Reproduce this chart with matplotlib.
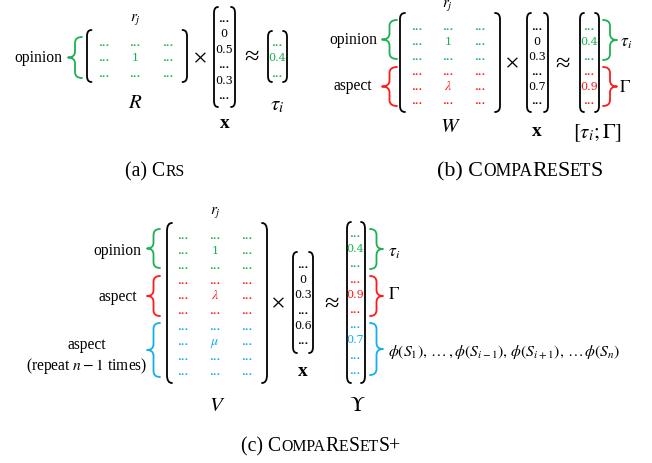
import matplotlib
matplotlib.use("Agg")
import matplotlib.pyplot as plt
from matplotlib.path import Path
from matplotlib.patches import PathPatch

plt.rcParams['mathtext.fontset'] = 'stix'

# ---------------- data ----------------
R_matrix = [["...", "...", "..."],
            ["...", "1", "..."],
            ["...", "...", "..."]]
x_a = ["...", "0", "0.5", "...", "0.3", "..."]
tau_a = ["...", "0.4", "..."]

W_matrix = [["...", "...", "..."],
            ["...", "1", "..."],
            ["...", "...", "..."],
            ["...", "...", "..."],
            ["...", r"$\lambda$", "..."],
            ["...", "...", "..."]]
W_groups = ["opinion", "opinion", "opinion", "aspect", "aspect", "aspect"]
x_b = ["...", "0", "0.3", "...", "0.7", "..."]
tau_b = ["...", "0.4", "...", "...", "0.9", "..."]

V_matrix = [["...", "...", "..."],
            ["...", "1", "..."],
            ["...", "...", "..."],
            ["...", "...", "..."],
            ["...", r"$\lambda$", "..."],
            ["...", "...", "..."],
            ["...", "...", "..."],
            ["...", r"$\mu$", "..."],
            ["...", "...", "..."],
            ["...", "...", "..."]]
V_groups = ["opinion"] * 3 + ["aspect"] * 3 + ["others"] * 4
x_c = ["...", "0", "0.3", "...", "0.6", "..."]
ups_c = ["...", "0.4", "...", "...", "0.9", "...", "...", "0.7", "...", "..."]

captions = {
    "a": [("(a) C", "L"), ("RS", "S")],
    "b": [("(b) C", "L"), ("OMPA", "S"), ("R", "L"), ("E", "S"), ("S", "L"),
          ("ET", "S"), ("S", "L")],
    "c": [("(c) C", "L"), ("OMPA", "S"), ("R", "L"), ("E", "S"), ("S", "L"),
          ("ET", "S"), ("S+", "L")],
}

GREEN = "#1DB052"
RED = "#FF1A1A"
BLUE = "#12AEEF"
group_color = {"opinion": GREEN, "aspect": RED, "others": BLUE}

SERIF = ["Liberation Serif", "DejaVu Serif"]
NUMF = ["DejaVu Serif"]

# ---------------- figure ----------------
fig = plt.figure(figsize=(6.52, 4.63), dpi=100)
ax = fig.add_axes([0, 0, 1, 1])
ax.set_xlim(0, 652)
ax.set_ylim(463, 0)
ax.axis("off")

NUM_FS = 8.0
DOT_FS = 7.5
LABEL_FS = 11.2
MATH_FS = 15
OP_FS = 19


def bracket(x, y0, y1, side, hook=4.5, curve=6, lw=1.3):
    s = 1 if side == "left" else -1
    verts = [(x + s * hook, y0), (x, y0), (x, y0 + curve),
             (x, y1 - curve), (x, y1), (x + s * hook, y1)]
    codes = [Path.MOVETO, Path.CURVE3, Path.CURVE3,
             Path.LINETO, Path.CURVE3, Path.CURVE3]
    ax.add_patch(PathPatch(Path(verts, codes), fill=False, lw=lw,
                           color="black", capstyle="round"))


def brace(x_tip, x_back, y0, y1, color, lw=1.3):
    xm = (x_tip + x_back) / 2
    ym = (y0 + y1) / 2
    r = min(6, (y1 - y0) / 5)
    verts = [(x_back, y0), (xm, y0), (xm, y0 + r),
             (xm, ym - r), (xm, ym), (x_tip, ym),
             (xm, ym), (xm, ym + r),
             (xm, y1 - r), (xm, y1), (x_back, y1)]
    codes = [Path.MOVETO, Path.CURVE3, Path.CURVE3,
             Path.LINETO, Path.CURVE3, Path.CURVE3,
             Path.CURVE3, Path.CURVE3,
             Path.LINETO, Path.CURVE3, Path.CURVE3]
    ax.add_patch(PathPatch(Path(verts, codes), fill=False, lw=lw,
                           color=color, capstyle="round", joinstyle="round"))


def entry(x, y, s, color):
    if s.startswith("$"):
        ax.text(x, y, s, ha="center", va="baseline", fontsize=NUM_FS + 2,
                color=color)
    elif s == "...":
        ax.text(x, y, s, ha="center", va="baseline", fontsize=DOT_FS,
                color=color, family=NUMF, fontweight="bold")
    else:
        ax.text(x, y, s, ha="center", va="baseline", fontsize=NUM_FS,
                color=color, family=NUMF)


def matrix(rows, colors, xs, y_first, dy):
    for i, row in enumerate(rows):
        for j, s in enumerate(row):
            entry(xs[j], y_first + i * dy, s, colors[i])


def vector(vals, colors, x, y_first, dy):
    for i, s in enumerate(vals):
        entry(x, y_first + i * dy, s, colors[i])


def label(x, y, s, fs=LABEL_FS, ha="center", **kw):
    ax.text(x, y, s, ha=ha, va="center", fontsize=fs, family=SERIF, **kw)


def mlabel(x, y, s, fs=MATH_FS, ha="center"):
    ax.text(x, y, s, ha=ha, va="center", fontsize=fs)


def smallcaps(xc, y, parts, fs):
    renderer = fig.canvas.get_renderer()
    texts = []
    for s, kind in parts:
        size = fs if kind == "L" else fs * 0.8
        t = ax.text(0, y, s, ha="left", va="baseline", fontsize=size,
                    family=SERIF)
        texts.append(t)
    widths = [t.get_window_extent(renderer).width for t in texts]
    total = sum(widths)
    x = xc - total / 2
    for t, w in zip(texts, widths):
        t.set_x(x)
        x += w


# ================= (a) =================
matrix(R_matrix, [GREEN] * 3, [104, 135, 168], 46, 15.3)
bracket(87, 30, 82, "left")
bracket(187, 30, 82, "right")
brace(68, 82, 37, 78, GREEN)
label(38, 58, "opinion")
mlabel(135, 20, r"$r_j$", fs=11)
mlabel(135, 102, r"$R$", fs=MATH_FS)
label(200, 60, "×", fs=OP_FS)
vector(x_a, ["black"] * 6, 224, 22, 15.4)
bracket(214, 7, 107, "left", hook=4)
bracket(235, 7, 107, "right", hook=4)
label(225, 124, "x", fs=14, fontweight="bold")
label(252, 58, "≈", fs=OP_FS)
vector(tau_a, [GREEN] * 3, 277, 46, 15.3)
bracket(268, 31, 82, "left", hook=4)
bracket(287, 31, 82, "right", hook=4)
mlabel(277, 105, r"$\tau_i$", fs=MATH_FS)
smallcaps(155, 176, captions["a"], 14.2)

# ================= (b) =================
wcol = [group_color[g] for g in W_groups]
matrix(W_matrix, wcol, [417, 448, 480], 30, 14.9)
bracket(400, 13, 112, "left", hook=5)
bracket(500, 13, 112, "right", hook=5)
brace(382, 397, 20, 59, GREEN)
brace(382, 397, 67, 106, RED)
label(353, 40, "opinion")
label(353, 86, "aspect")
mlabel(447, 6, r"$r_j$", fs=11)
mlabel(450, 126, r"$W$", fs=MATH_FS)
label(512, 65, "×", fs=OP_FS)
vector(x_b, ["black"] * 6, 537, 30, 14.9)
bracket(527, 13, 112, "left", hook=4)
bracket(548, 13, 112, "right", hook=4)
label(537, 132, "x", fs=14, fontweight="bold")
label(563, 65, "≈", fs=OP_FS)
vector(tau_b, wcol, 589, 30, 14.9)
bracket(580, 13, 112, "left", hook=4)
bracket(599, 13, 112, "right", hook=4)
brace(617, 603, 20, 60, GREEN)
brace(617, 603, 67, 106, RED)
mlabel(620, 42, r"$\tau_i$", fs=12.5, ha="left")
mlabel(619, 87, r"$\Gamma$", fs=12.5, ha="left")
mlabel(597, 133, r"$[\tau_i;\Gamma]$", fs=MATH_FS)
smallcaps(520, 176, captions["b"], 15.8)

# ================= (c) =================
vcol = [group_color[g] for g in V_groups]
matrix(V_matrix, vcol, [183, 215, 247], 239, 15.1)
bracket(167, 223, 383, "left", hook=5, curve=8)
bracket(267, 223, 383, "right", hook=5, curve=8)
brace(147, 160, 229, 268, GREEN)
brace(147, 160, 276, 316, RED)
brace(147, 160, 323, 377, BLUE)
label(117, 251, "opinion")
label(118, 297, "aspect")
label(87, 345, "aspect")
ax.text(87, 366, "(repeat $n-1$ times)", ha="center", va="center",
        fontsize=LABEL_FS, family=SERIF)
mlabel(215, 213, r"$r_j$", fs=11)
mlabel(217, 405, r"$V$", fs=MATH_FS)
label(278, 305, "×", fs=OP_FS)
vector(x_c, ["black"] * 6, 303, 268, 15.2)
bracket(293, 252, 353, "left", hook=4)
bracket(313, 252, 353, "right", hook=4)
label(303, 372, "x", fs=14, fontweight="bold")
label(332, 305, "≈", fs=OP_FS)
vector(ups_c, vcol, 355, 237, 15.2)
bracket(347, 222, 383, "left", hook=4, curve=7)
bracket(365, 222, 383, "right", hook=4, curve=7)
brace(383, 370, 229, 269, GREEN)
brace(383, 370, 276, 316, RED)
brace(383, 370, 323, 375, BLUE)
mlabel(388, 252, r"$\tau_i$", fs=12.5, ha="left")
mlabel(388, 294, r"$\Gamma$", fs=12.5, ha="left")
mlabel(388, 352,
       r"$\phi(S_1),\,\ldots\,,\phi(S_{i-1}),\,\phi(S_{i+1}),\,\ldots\,\phi(S_n)$",
       fs=11.3, ha="left")
mlabel(357, 405, r"$\Upsilon$", fs=MATH_FS)
smallcaps(321, 451, captions["c"], 14.2)

fig.savefig("out.png", dpi=100, facecolor="white")
